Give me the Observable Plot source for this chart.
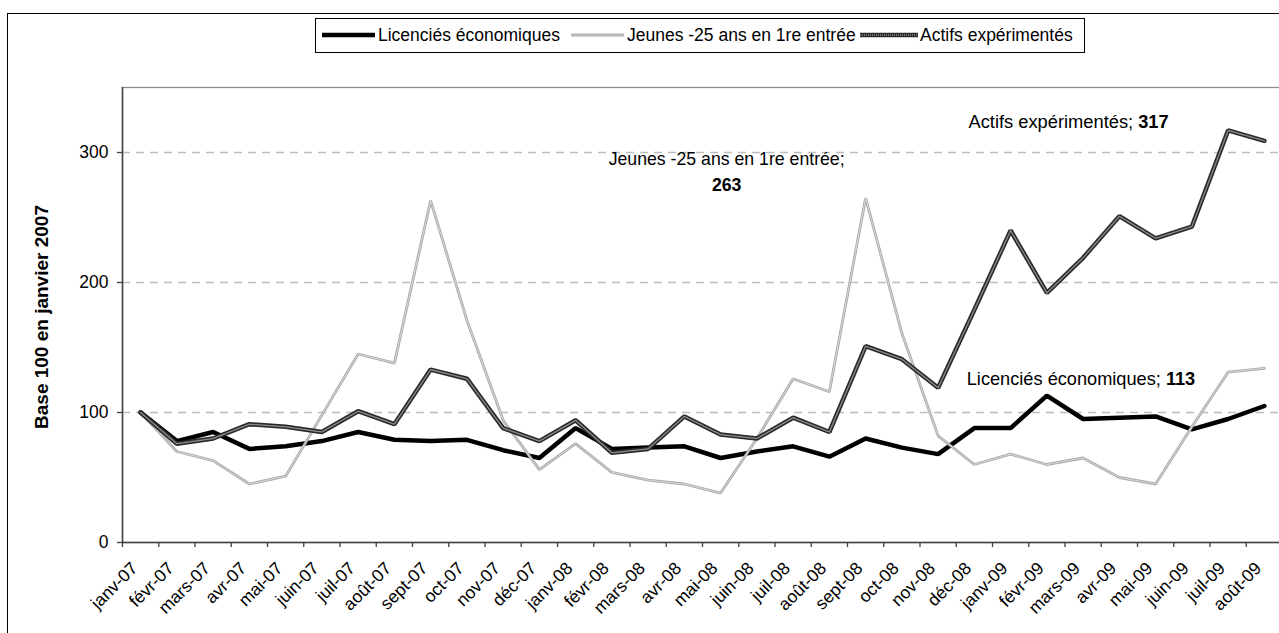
<!DOCTYPE html>
<html><head><meta charset="utf-8">
<script src="https://cdn.jsdelivr.net/npm/d3@7"></script>
<script src="https://cdn.jsdelivr.net/npm/@observablehq/plot@0.6"></script>
<style>
html,body{margin:0;padding:0;background:#fff;}
#wrap{position:relative;width:1279px;height:633px;overflow:hidden;font-family:"Liberation Sans",Arial,sans-serif;}
#frame{position:absolute;left:7px;top:13px;width:1400px;height:800px;border:1.5px solid #000;box-sizing:border-box;}
#chart{position:absolute;left:0;top:0;}
#legend{position:absolute;left:315px;top:18px;height:35px;width:770px;border:1px solid #000;box-sizing:border-box;background:#fff;font-size:17.5px;color:#000;}
#legend .sw{position:absolute;top:8px;}
#legend .lb{position:absolute;top:6px;white-space:nowrap;line-height:20px;}
</style></head><body>
<div id="wrap"><div id="frame"></div><div id="chart"></div><div id="legend"></div></div>
<script>
// ---- data ----
const months = ["janv-07","févr-07","mars-07","avr-07","mai-07","juin-07","juil-07","août-07","sept-07","oct-07","nov-07","déc-07",
  "janv-08","févr-08","mars-08","avr-08","mai-08","juin-08","juil-08","août-08","sept-08","oct-08","nov-08","déc-08",
  "janv-09","févr-09","mars-09","avr-09","mai-09","juin-09","juil-09","août-09"];
const seriesNames = ["Licenciés économiques","Jeunes -25 ans en 1re entrée","Actifs expérimentés"];
const licencies = [100,78,85,72,74,78,85,79,78,79,71,65,88,72,73,74,65,70,74,66,80,73,68,88,88,113,95,96,97,87,95,105];
const jeunes    = [100,70,63,45,51,98,145,138,263,171,94,56,76,54,48,45,38,80,126,116,265,161,82,60,68,60,65,50,45,89,131,134];
const actifs    = [100,76,80,91,89,85,101,91,133,126,88,78,94,69,72,97,83,80,96,85,151,141,119,179,240,192,219,251,234,243,317,309];
const yTicks = [0,100,200,300];
const yLabel = "Base 100 en janvier 2007";
// data labels: series, month
const labelPoints = [
  {series: "Jeunes -25 ans en 1re entrée", month: "sept-07"},
  {series: "Actifs expérimentés", month: "juil-09"},
  {series: "Licenciés économiques", month: "févr-09"}
];

// ---- build table ----
const valuesBySeries = {[seriesNames[0]]: licencies, [seriesNames[1]]: jeunes, [seriesNames[2]]: actifs};
const rows = [];
seriesNames.forEach(s => valuesBySeries[s].forEach((v, i) => rows.push({series: s, month: months[i], i: i + 0.5, v})));
const ser = s => rows.filter(r => r.series === s);
const pt = (s, m) => rows.filter(r => r.series === s && r.month === m);

const [pJ, pA, pL] = labelPoints.map(p => pt(p.series, p.month));

const font = "Liberation Sans, Arial, sans-serif";
const FS = 17.5;
const chart = Plot.plot({
  width: 1279, height: 633,
  marginTop: 87, marginBottom: 91, marginLeft: 122, marginRight: -3,
  style: {fontFamily: font, fontSize: FS + "px", color: "#000", background: "transparent"},
  x: {domain: [0, months.length]},
  y: {domain: [0, 350]},
  marks: [
    Plot.gridY(yTicks.filter(d => d > 0), {stroke: "#bdbdbd", strokeOpacity: 1, strokeDasharray: "8,6", strokeWidth: 1.3}),
    Plot.frame({stroke: "#8a8a8a", strokeWidth: 1.3}),
    Plot.axisY(yTicks, {tickSize: 5, tickPadding: 9, label: null, stroke: "#404040", strokeWidth: 1.3, fill: "#000", fontSize: FS}),
    Plot.axisX(d3.range(months.length + 1), {tickSize: 5, tickFormat: () => "", label: null, stroke: "#404040", strokeWidth: 1.3}),
    Plot.axisX(months.map((m, i) => i + 0.5), {tickSize: 0, tickRotate: -45, tickPadding: 23, dx: -6, tickFormat: d => months[Math.floor(d)], label: null, fill: "#000", fontSize: FS}),
    Plot.ruleX([0], {stroke: "#404040", strokeWidth: 1.5}),
    Plot.ruleY([0], {stroke: "#404040", strokeWidth: 1.5}),
    Plot.text([yLabel], {frameAnchor: "left", textAnchor: "middle", rotate: -90, dx: -81, dy: 2, fontWeight: "bold", fontSize: 19, fill: "#000"}),
    // Licenciés
    Plot.line(ser(seriesNames[0]), {x: "i", y: "v", stroke: "#000", strokeWidth: 4.5, strokeLinejoin: "miter"}),
    // Jeunes
    Plot.line(ser(seriesNames[1]), {x: "i", y: "v", stroke: "#aaaaaa", strokeWidth: 2.8, strokeLinejoin: "miter"}),
    Plot.line(ser(seriesNames[1]), {x: "i", y: "v", stroke: "#e0e0e0", strokeWidth: 1, strokeDasharray: "1,1", strokeLinejoin: "miter"}),
    // Actifs
    Plot.line(ser(seriesNames[2]), {x: "i", y: "v", stroke: "#2a2a2a", strokeWidth: 4.5, strokeLinejoin: "miter"}),
    Plot.line(ser(seriesNames[2]), {x: "i", y: "v", stroke: "#8a8a8a", strokeWidth: 1.4, strokeDasharray: "1,1", strokeLinejoin: "miter"}),
    // data labels
    Plot.text(pJ, {x: "i", y: "v", text: d => d.series + ";", dx: 296, dy: -41, fontSize: 17.7, fill: "#000"}),
    Plot.text(pJ, {x: "i", y: "v", text: d => String(d.v), dx: 296, dy: -15, fontSize: 17.7, fontWeight: "bold", fill: "#000"}),
    Plot.text(pA, {x: "i", y: "v", text: d => d.series + ";", textAnchor: "end", dx: -95, dy: -8, fontSize: 18.3, fill: "#000"}),
    Plot.text(pA, {x: "i", y: "v", text: d => String(d.v), textAnchor: "start", dx: -90, dy: -8, fontSize: 18.3, fontWeight: "bold", fill: "#000"}),
    Plot.text(pL, {x: "i", y: "v", text: d => d.series + ";", textAnchor: "end", dx: 114, dy: -16, fontSize: 18.2, fill: "#000"}),
    Plot.text(pL, {x: "i", y: "v", text: d => String(d.v), textAnchor: "start", dx: 119, dy: -16, fontSize: 18.2, fontWeight: "bold", fill: "#000"})
  ]
});
document.getElementById("chart").appendChild(chart);

// ---- legend ----
const legend = document.getElementById("legend");
const swatches = [
  {left: 6, text: 62, draw: '<line x1="0" y1="8" x2="53" y2="8" stroke="#000" stroke-width="4.5"/>'},
  {left: 255, text: 311, draw: '<line x1="0" y1="8" x2="53" y2="8" stroke="#aaaaaa" stroke-width="2.8"/><line x1="0" y1="8" x2="53" y2="8" stroke="#e0e0e0" stroke-width="1" stroke-dasharray="1,1"/>'},
  {left: 544, text: 604, draw: '<line x1="0" y1="8" x2="58" y2="8" stroke="#2a2a2a" stroke-width="4.5"/><line x1="0" y1="8" x2="58" y2="8" stroke="#8a8a8a" stroke-width="1.4" stroke-dasharray="1,1"/>'}
];
seriesNames.forEach((name, k) => {
  const s = swatches[k];
  const sw = document.createElementNS("http://www.w3.org/2000/svg", "svg");
  sw.setAttribute("class", "sw"); sw.setAttribute("width", "58"); sw.setAttribute("height", "16");
  sw.style.left = s.left + "px";
  sw.innerHTML = s.draw;
  legend.appendChild(sw);
  const lb = document.createElement("span");
  lb.className = "lb"; lb.style.left = s.text + "px"; lb.textContent = name;
  legend.appendChild(lb);
});
</script>
</body></html>
